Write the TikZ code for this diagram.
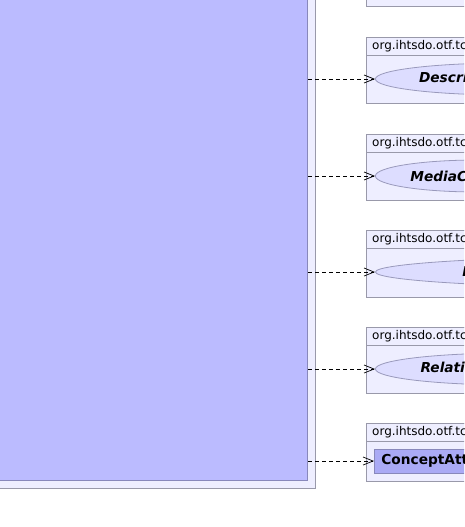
\documentclass[tikz,border=0pt]{standalone}
\usepackage{fontspec}
\setmainfont{DejaVu Sans}
\usetikzlibrary{shapes.geometric,arrows.meta}

\definecolor{clsfill}{HTML}{BBBBFF}
\definecolor{clsline}{HTML}{8888BB}
\definecolor{pkgfill}{HTML}{EEEEFF}
\definecolor{pkgline}{HTML}{9999AA}
\definecolor{ifacefill}{HTML}{DDDDFF}
\definecolor{ifaceline}{HTML}{9999BB}
\definecolor{typefill}{HTML}{AAAAF5}

\tikzset{
    pkgbox/.style={rectangle,draw=pkgline,fill=pkgfill,line width=0.8pt,anchor=north west,minimum width=200pt,inner sep=0pt},
    pkghead/.style={rectangle,draw=pkgline,fill=pkgfill,line width=0.8pt,anchor=north west,minimum width=200pt,minimum height=18pt,inner sep=0pt},
    pkgtext/.style={anchor=west,inner sep=0pt,font=\fontsize{12}{14}\selectfont},
    iface/.style={ellipse,draw=ifaceline,fill=ifacefill,line width=0.8pt,anchor=west,inner xsep=5pt,inner ysep=0pt,minimum height=32pt,font=\fontsize{13.7}{16}\selectfont\bfseries\itshape},
    typebox/.style={rectangle,draw=clsline,fill=typefill,line width=0.8pt,anchor=west,inner xsep=7pt,inner ysep=0pt,minimum height=24pt,font=\fontsize{13.7}{16}\selectfont\bfseries},
    uses/.style={draw=black,line width=0.7pt,dash pattern=on 4pt off 3pt,-{Straight Barb[length=10pt,width=8pt]}}
}

\begin{document}
\begin{tikzpicture}[x=1pt,y=-1pt]
        \useasboundingbox (0,0) rectangle (464,527);
        \clip (0,0) rectangle (464,527);
        % class frame
        \node (frame) [rectangle,draw=pkgline,fill=pkgfill,line width=0.8pt,anchor=south east,minimum width=420pt,minimum height=600pt] at (316,489) {};
        \node (cls) [rectangle,draw=clsline,fill=clsfill,line width=0.8pt,anchor=south east,minimum width=410pt,minimum height=590pt] at (308,481) {};
        % packages
        \node (pkg0) [pkgbox,anchor=south west,minimum height=60pt] at (366,7) {};
        \node (pkg1) [pkgbox,minimum height=66pt] at (366,37) {};
        \node (pkg1h) [pkghead] at (366,37) {};
        \node (pkg1t) [pkgtext] at (372,46) {org.ihtsdo.otf.tcc.api.description};
        \node (pkg2) [pkgbox,minimum height=66pt] at (366,134) {};
        \node (pkg2h) [pkghead] at (366,134) {};
        \node (pkg2t) [pkgtext] at (372,143) {org.ihtsdo.otf.tcc.api.media};
        \node (pkg3) [pkgbox,minimum height=67pt] at (366,230) {};
        \node (pkg3h) [pkghead] at (366,230) {};
        \node (pkg3t) [pkgtext] at (372,239) {org.ihtsdo.otf.tcc.api.refex};
        \node (pkg4) [pkgbox,minimum height=66pt] at (366,327) {};
        \node (pkg4h) [pkghead] at (366,327) {};
        \node (pkg4t) [pkgtext] at (372,336) {org.ihtsdo.otf.tcc.api.relationship};
        \node (pkg5) [pkgbox,minimum height=58pt] at (366,423) {};
        \node (pkg5h) [pkghead] at (366,423) {};
        \node (pkg5t) [pkgtext] at (372,432) {org.ihtsdo.otf.tcc.api.conattr};
        % types
        \node (desc) [iface] at (375,79) {DescriptionChronicleBI};
        \node (media) [iface] at (375,176) {MediaChronicleBI};
        \node (refex) [iface] at (375,272) {RefexChronicleBI<? extends RefexVersionBI<?, ?>>};
        \node (rel) [iface] at (375,369) {RelationshipChronicleBI};
        \node (conattr) [typebox] at (374,461) {ConceptAttributeChronicleBI};
        % dependencies
        \path (cls.east |- desc.west) edge[uses] (desc.west);
        \path (cls.east |- media.west) edge[uses] (media.west);
        \path (cls.east |- refex.west) edge[uses] (refex.west);
        \path (cls.east |- rel.west) edge[uses] (rel.west);
        \path (cls.east |- conattr.west) edge[uses] (conattr.west);
    \end{tikzpicture}
\end{document}
